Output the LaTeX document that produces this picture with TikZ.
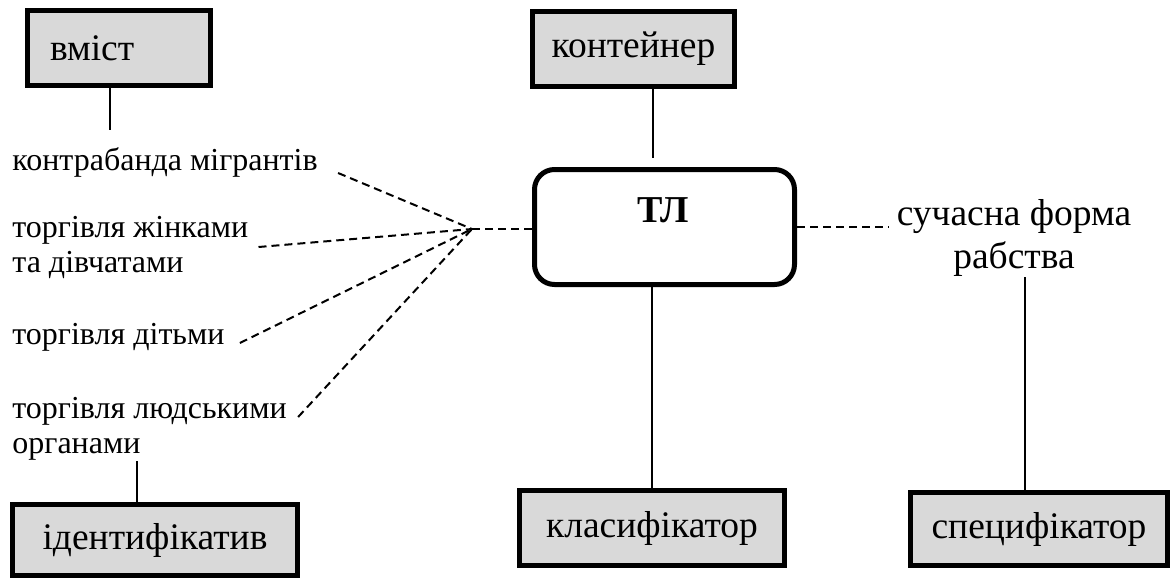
\documentclass[tikz,border=0pt]{standalone}
\usepackage{fontspec}
\setmainfont{Liberation Serif}
\usetikzlibrary{calc}
\definecolor{boxgray}{RGB}{217,217,217}
\tikzset{
  termbox/.style={draw=black, line width=2.5pt, fill=boxgray, inner sep=0pt,
    minimum height=37.5pt, font=\fontsize{18.75}{22}\selectfont},
  corebox/.style={draw=black, line width=2.5pt, rounded corners=10pt,
    minimum width=130pt, minimum height=57.5pt, inner sep=0pt},
  lbl/.style={inner sep=0pt, align=left, anchor=base west,
    font=\fontsize{16}{17.5}\selectfont},
  link/.style={line width=1pt},
  dashlink/.style={line width=1pt, dash pattern=on 4pt off 2.5pt},
}
\begin{document}
\begin{tikzpicture}[x=0.5pt,y=-0.5pt]
\useasboundingbox (0,0) rectangle (1173,579);

% boxes
\node[termbox, minimum width=91.5pt, text width=69pt, align=left] (vmist) at (119,48) {вміст};
\node[termbox, minimum width=101pt] (cont) at (633.5,49) {контейнер};
\node[corebox] (tl) at (664.5,227) {};
\node[anchor=base, inner sep=0pt, font=\bfseries\fontsize{19}{22}\selectfont] (tltext)
  at ([shift={(-1.5,-5)}]tl.center) {ТЛ};
\node[termbox, minimum width=132.5pt] (klas) at (652,528) {класифікатор};
\node[termbox, minimum width=128.5pt, minimum height=36.5pt] (spec) at (1039,529) {специфікатор};
\node[termbox, minimum width=142.5pt, minimum height=35.5pt] (ident) at (155,540) {ідентифікатив};

% labels (multi-line nodes are placed by the baseline of their last line)
\node[lbl] (lab1) at (12,170) {контрабанда мігрантів};
\node[lbl] (lab2) at (12,272) {торгівля жінками\\та дівчатами};
\node[lbl] (lab3) at (12,344) {торгівля дітьми};
\node[lbl] (lab4) at (12,453) {торгівля людськими\\органами};
\node[align=center, inner sep=3.5pt, anchor=base, font=\fontsize{18.75}{21.5}\selectfont]
  (slave) at (1014,268) {сучасна форма\\рабства};

% solid connectors
\draw[link] ([xshift=-4.5pt]vmist.south) -- ++(0,42);
\draw[link] ([xshift=9.75pt]cont.south) -- ++(0,69);
\draw[link] (tl.south -| klas.north) -- (klas.north);
\draw[link] ([xshift=-7pt]spec.north) -- ++(0,-213);
\draw[link] ([xshift=-9pt]ident.north) -- ++(0,-41);

% dashed connectors
\coordinate (hub) at (472,229);
\draw[dashlink] (hub) -- (hub -| tl.west);
\draw[dashlink] (tl.east) -- (tl.east -| slave.west);
\draw[dashlink] ([shift={(20,3)}]lab1.base east) -- (hub);
\draw[dashlink] ([shift={(10,0)}]lab2.east) -- (hub);
\draw[dashlink] ([shift={(15,-1)}]lab3.base east) -- (hub);
\draw[dashlink] ([shift={(11,-36)}]lab4.base east) -- (hub);
\end{tikzpicture}
\end{document}
